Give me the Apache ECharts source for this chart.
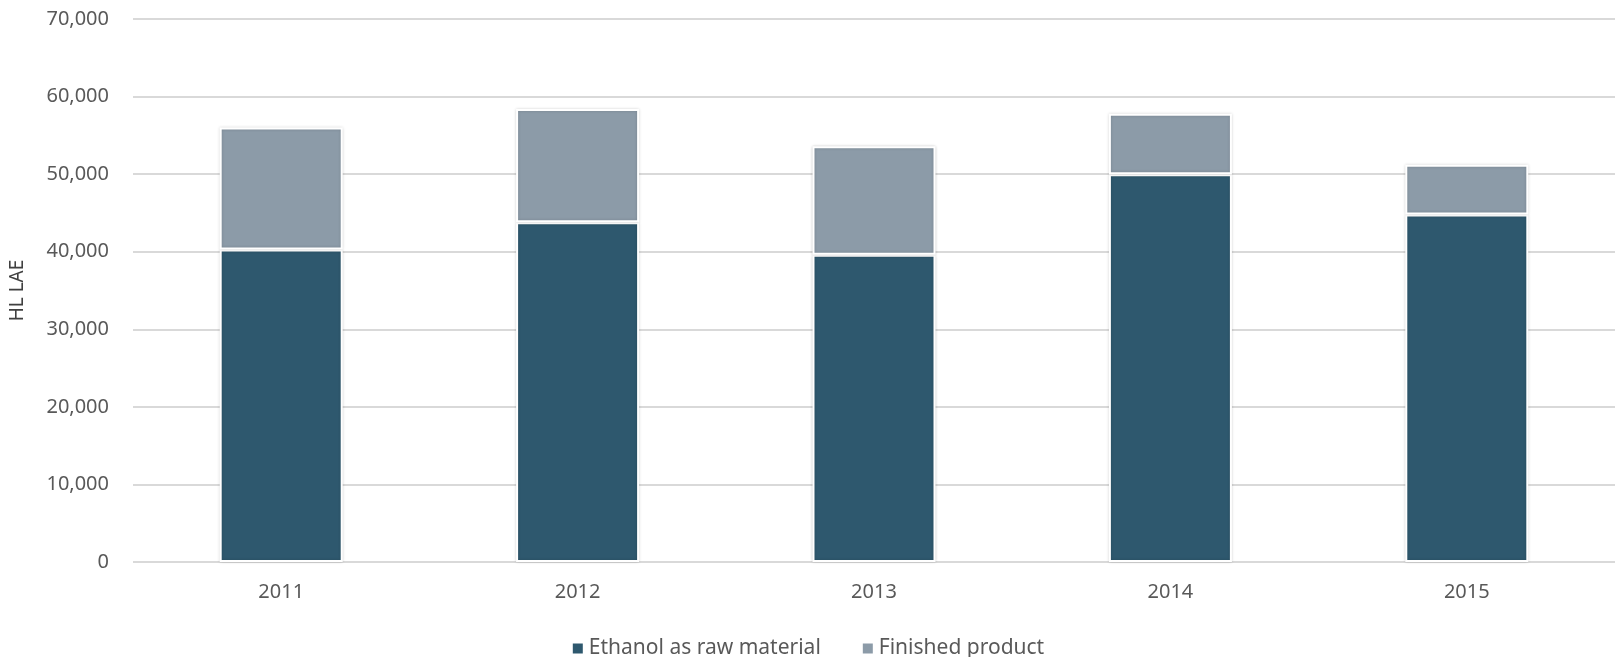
<!DOCTYPE html>
<html>
<head>
<meta charset="utf-8">
<script src="https://cdn.jsdelivr.net/npm/echarts@6/dist/echarts.min.js"></script>
<style>
html,body{margin:0;padding:0;background:#fff;}
#chart{width:1615px;height:657px;}
</style>
</head>
<body>
<div id="chart"></div>
<script>
const categories = ['2011', '2012', '2013', '2014', '2015'];
const rawMaterial = [40300, 43800, 39600, 50000, 44800];
const finishedProduct = [15700, 14600, 14000, 7800, 6400];
const yTicks = [0, 10000, 20000, 30000, 40000, 50000, 60000, 70000];

const FONT = '"Noto Sans", sans-serif';
const chart = echarts.init(document.getElementById('chart'));
const barStyle = (color) => ({
  color: color,
  borderColor: '#ffffff',
  borderWidth: 2,
  shadowColor: 'rgba(0,0,0,0.18)',
  shadowBlur: 3
});
chart.setOption({
  animation: false,
  grid: { left: 131, right: 0, top: 19, bottom: 95, containLabel: false },
  legend: {
    top: 633,
    left: 'center',
    itemWidth: 12,
    itemHeight: 12,
    itemGap: 40,
    icon: 'rect',
    textStyle: { color: '#595959', fontSize: 21, fontFamily: FONT },
    data: ['Ethanol as raw material', 'Finished product']
  },
  xAxis: {
    type: 'category',
    data: categories,
    axisLine: { show: false },
    axisTick: { show: false },
    axisLabel: { color: '#595959', fontSize: 20, fontFamily: FONT, margin: 20 }
  },
  yAxis: {
    type: 'value',
    min: yTicks[0],
    max: yTicks[yTicks.length - 1],
    interval: 10000,
    name: 'HL LAE',
    nameLocation: 'middle',
    nameGap: 106,
    nameRotate: 90,
    nameTextStyle: { color: '#404040', fontSize: 19, fontFamily: FONT },
    axisLine: { show: false },
    axisTick: { show: false },
    splitLine: { lineStyle: { color: '#d9d9d9', width: 2 } },
    axisLabel: {
      color: '#595959', fontSize: 20, fontFamily: FONT, margin: 24,
      formatter: (v) => v.toLocaleString('en-US')
    }
  },
  series: [
    {
      name: 'Ethanol as raw material',
      type: 'bar',
      stack: 'total',
      barWidth: '41.5%',
      data: rawMaterial,
      itemStyle: barStyle('#2e586e')
    },
    {
      name: 'Finished product',
      type: 'bar',
      stack: 'total',
      barWidth: '41.5%',
      data: finishedProduct,
      itemStyle: barStyle('#8c9ba8')
    }
  ]
});
</script>
</body>
</html>
